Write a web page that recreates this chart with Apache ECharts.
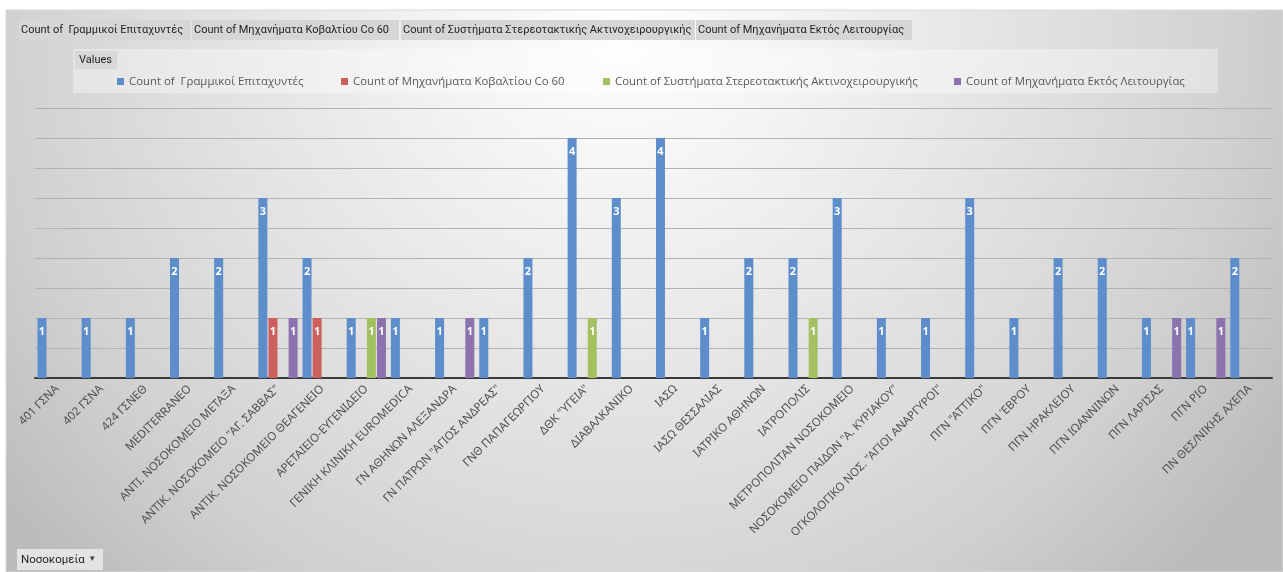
<!DOCTYPE html>
<html>
<head>
<meta charset="utf-8">
<title>Ακτινοθεραπευτικά μηχανήματα ανά νοσοκομείο</title>
<script src="https://cdn.jsdelivr.net/npm/echarts@6/dist/echarts.min.js"></script>
<style>
  html, body { margin: 0; padding: 0; background: #ffffff; }
  #chart { width: 1283px; height: 572px; }
</style>
</head>
<body>
<div id="chart"></div>
<script>
// Hospitals (x-axis categories)
const hospitals = [
  '401 ΓΣΝΑ', '402 ΓΣΝΑ', '424 ΓΣΝΕΘ', 'MEDITERRANEO',
  'ΑΝΤΙ. ΝΟΣΟΚΟΜΕΙΟ ΜΕΤΑΞΑ', 'ΑΝΤΙΚ. ΝΟΣΟΚΟΜΕΙΟ "ΑΓ. ΣΑΒΒΑΣ"', 'ΑΝΤΙΚ. ΝΟΣΟΚΟΜΕΙΟ ΘΕΑΓΕΝΕΙΟ',
  'ΑΡΕΤΑΙΕΙΟ-ΕΥΓΕΝΙΔΕΙΟ', 'ΓΕΝΙΚΗ ΚΛΙΝΙΚΗ EUROMEDICA', 'ΓΝ ΑΘΗΝΩΝ ΑΛΕΞΑΝΔΡΑ',
  'ΓΝ ΠΑΤΡΩΝ "ΑΓΙΟΣ ΑΝΔΡΕΑΣ"', 'ΓΝΘ ΠΑΠΑΓΕΩΡΓΙΟΥ', 'ΔΘΚ "ΥΓΕΙΑ"', 'ΔΙΑΒΑΛΚΑΝΙΚΟ',
  'ΙΑΣΩ', 'ΙΑΣΩ ΘΕΣΣΑΛΙΑΣ', 'ΙΑΤΡΙΚΟ ΑΘΗΝΩΝ', 'ΙΑΤΡΟΠΟΛΙΣ', 'ΜΕΤΡΟΠΟΛΙΤΑΝ ΝΟΣΟΚΟΜΕΙΟ',
  'ΝΟΣΟΚΟΜΕΙΟ ΠΑΙΔΩΝ "Α. ΚΥΡΙΑΚΟΥ"', 'ΟΓΚΟΛΟΓΙΚΟ ΝΟΣ. "ΑΓΙΟΙ ΑΝΑΡΓΥΡΟΙ"', 'ΠΓΝ "ΑΤΤΙΚΟ"',
  'ΠΓΝ ΈΒΡΟΥ', 'ΠΓΝ ΗΡΑΚΛΕΙΟΥ', 'ΠΓΝ ΙΩΑΝΝΙΝΩΝ', 'ΠΓΝ ΛΑΡΙΣΑΣ', 'ΠΓΝ ΡΙΟ', 'ΠΝ ΘΕΣ/ΝΙΚΗΣ ΑΧΕΠΑ'
];

// Series names
const seriesNames = [
  'Count of  Γραμμικοί Επιταχυντές',
  'Count of Μηχανήματα Κοβαλτίου Co 60',
  'Count of Συστήματα Στερεοτακτικής Ακτινοχειρουργικής',
  'Count of Μηχανήματα Εκτός Λειτουργίας'
];

// Counts per hospital (null = no entry)
const linearAccelerators = [1, 1, 1, 2, 2, 3, 2, 1, 1, 1, 1, 2, 4, 3, 4, 1, 2, 2, 3, 1, 1, 3, 1, 2, 2, 1, 1, 2];
const cobaltUnits = [null, null, null, null, null, 1, 1, null, null, null, null, null, null, null,
  null, null, null, null, null, null, null, null, null, null, null, null, null, null];
const radiosurgerySystems = [null, null, null, null, null, null, null, 1, null, null, null, null, 1, null,
  null, null, null, 1, null, null, null, null, null, null, null, null, null, null];
const outOfService = [null, null, null, null, null, 1, null, 1, null, 1, null, null, null, null,
  null, null, null, null, null, null, null, null, null, null, null, 1, 1, null];

const seriesColors = ['#5d8ecb', '#cd5f5c', '#a3c161', '#8c73af'];
const seriesData = [linearAccelerators, cobaltUnits, radiosurgerySystems, outOfService];

// Pivot field buttons along the top
const fieldButtons = [
  { x: 19, w: 171 }, { x: 192, w: 207 }, { x: 401, w: 294 }, { x: 696, w: 216 }
];
const legendLefts = [117, 341, 603, 954];

const uiFont = '"Open Sans", "Noto Sans", sans-serif';
const btnFont = 'Roboto, "Noto Sans", sans-serif';

const chart = echarts.init(document.getElementById('chart'), null, { renderer: 'canvas' });

const graphics = [
  {
    type: 'rect', z: -10, silent: true,
    shape: { x: 6, y: 10, width: 1277, height: 562 },
    style: {
      fill: {
        type: 'radial', x: 620, y: 20, r: 780, global: true,
        colorStops: [
          { offset: 0, color: '#fefefe' },
          { offset: 0.2, color: '#f5f5f5' },
          { offset: 0.35, color: '#ececec' },
          { offset: 0.62, color: '#dcdcdc' },
          { offset: 0.8, color: '#d0d0d0' },
          { offset: 0.94, color: '#c2c2c2' },
          { offset: 1, color: '#bcbcbc' }
        ]
      },
      stroke: '#d8d8d8', lineWidth: 1
    }
  },
  // legend panel
  {
    type: 'rect', z: -5, silent: true,
    shape: { x: 73, y: 49, width: 1145, height: 44 },
    style: { fill: 'rgba(255,255,255,0.35)' }
  },
  {
    type: 'group', z: -4, silent: true,
    children: [
      { type: 'rect', shape: { x: 75, y: 51, width: 42, height: 18 }, style: { fill: '#d8d8d8' } },
      { type: 'text', x: 79, y: 60, style: { text: 'Values', font: '11px ' + btnFont, fill: '#1f1f1f', verticalAlign: 'middle' } }
    ]
  },
  // row field button
  {
    type: 'group', z: -4, silent: true,
    children: [
      { type: 'rect', shape: { x: 17, y: 549, width: 86, height: 21 }, style: { fill: '#e3e3e3' } },
      { type: 'text', x: 21, y: 560, style: { text: 'Νοσοκομεία', font: '11.5px ' + btnFont, fill: '#1f1f1f', verticalAlign: 'middle' } },
      { type: 'text', x: 90, y: 559, style: { text: '▾', font: '9px ' + btnFont, fill: '#404040', verticalAlign: 'middle' } }
    ]
  }
];

fieldButtons.forEach((b, i) => {
  graphics.push({
    type: 'group', z: -4, silent: true,
    children: [
      { type: 'rect', shape: { x: b.x, y: 20, width: b.w, height: 20 }, style: { fill: '#d6d6d6' } },
      { type: 'text', x: b.x + 2, y: 30, style: { text: seriesNames[i], font: '11px ' + btnFont, fill: '#1f1f1f', verticalAlign: 'middle' } }
    ]
  });
});

const option = {
  animation: false,
  textStyle: { fontFamily: uiFont },
  graphic: graphics,
  legend: seriesNames.map((name, i) => ({
    data: [name],
    left: legendLefts[i],
    top: 76,
    padding: 0,
    icon: 'rect',
    itemWidth: 7,
    itemHeight: 7,
    itemGap: 0,
    selectedMode: false,
    textStyle: { fontSize: 11.4, color: '#595959', fontFamily: uiFont }
  })),
  grid: { left: 35, right: 11, top: 108, bottom: 194, containLabel: false },
  xAxis: {
    type: 'category',
    data: hospitals,
    axisTick: { show: false },
    axisLine: { lineStyle: { color: '#3a3a3a', width: 2 } },
    axisLabel: {
      interval: 0,
      rotate: 45,
      margin: 9,
      fontSize: 11.5,
      color: '#505050',
      fontFamily: '"Noto Sans", sans-serif'
    }
  },
  yAxis: {
    type: 'value',
    min: 0,
    max: 4.5,
    interval: 0.5,
    axisLabel: { show: false },
    axisLine: { show: false },
    axisTick: { show: false },
    splitLine: { lineStyle: { color: '#b2b2b2', width: 1 } }
  },
  series: seriesNames.map((name, i) => ({
    name,
    type: 'bar',
    data: seriesData[i],
    barWidth: 9,
    barGap: '12%',
    itemStyle: { color: seriesColors[i] },
    label: {
      show: true,
      position: 'insideTop',
      distance: 8,
      color: '#ffffff',
      fontWeight: 'bold',
      fontSize: 11,
      fontFamily: uiFont
    }
  }))
};

chart.setOption(option);
</script>
</body>
</html>
